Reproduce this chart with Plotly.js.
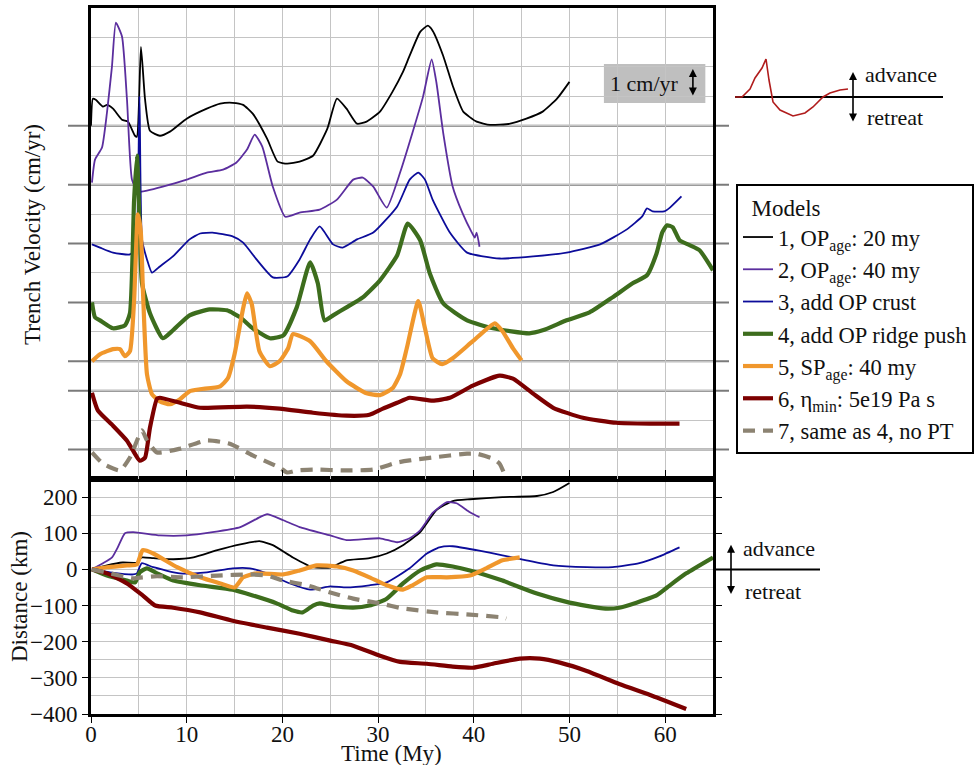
<!DOCTYPE html>
<html>
<head>
<meta charset="utf-8">
<script src="https://cdn.plot.ly/plotly-3.0.1.min.js"></script>
<style>html,body{margin:0;padding:0;background:#fff;}#chart{width:979px;height:765px;}</style>
</head>
<body>
<div id="chart"></div>
<script>
// ---------- Trench velocity (cm/yr), time in My ----------
const t1 = [0,0.2,0.5,1.25,1.67,2.3,3.24,3.86,4.6,4.8,5.22,5.64,6.16,7.2,8.25,10.0,12.1,13.5,14.8,15.9,16.9,18.4,19.5,20.5,21.8,23.2,24.7,25.7,26.7,27.8,28.8,30.2,31.5,32.6,33.3,34.4,35.2,35.7,36.8,37.8,38.9,40.3,41.7,43.8,45.5,47.2,48.7,50.0];
const v1 = [0,0.92,0.88,0.65,0.71,0.58,0.2,0.14,-0.34,-0.37,2.68,0.92,-0.17,-0.34,-0.2,0.24,0.58,0.75,0.78,0.71,0.41,-0.44,-1.22,-1.29,-1.22,-1.02,-0.1,0.92,0.58,0.07,0.14,0.48,1.15,1.83,2.38,3.19,3.40,3.23,2.38,1.36,0.48,0.14,0.03,0.07,0.24,0.48,0.92,1.49];
const t2 = [0.1,0.42,1.15,1.67,2.19,2.6,3.24,3.76,4.28,4.9,5.85,7.5,10.0,12.1,13.8,15.2,16.3,17.1,17.9,19.0,20.3,21.8,23.9,25.7,27.4,28.4,29.5,30.9,32.3,33.6,34.7,35.6,36.1,36.8,37.8,38.8,39.8,40.1,40.3,40.6];
const v2 = [0.07,0.85,1.26,2.45,4.01,5.5,5.03,2.89,0.17,-0.24,-0.2,-0.07,0.17,0.41,0.51,0.75,1.19,1.70,1.29,-0.07,-1.09,-0.95,-0.85,-0.51,0.17,0.24,-0.07,-0.78,0.41,1.77,2.99,4.25,3.46,1.77,-0.07,-0.95,-1.63,-1.80,-1.63,-2.11];
const t3 = [0.1,0.94,2.3,4.07,4.6,4.8,5.07,5.33,5.85,6.37,7.2,8.56,10.3,11.4,12.7,14.8,15.9,17.3,19.0,20.5,21.8,22.9,23.9,25.3,26.3,27.8,29.5,32.0,33.3,34.2,34.9,35.7,37.5,39.3,42.7,46.2,49.7,53.2,56.0,57.6,58.1,58.7,59.9,60.5,61.7];
const v3 = [-0.03,-0.14,-0.31,-0.37,-0.2,0.14,5.0,0.14,-0.54,-0.99,-0.78,-0.44,0.14,0.34,0.37,0.24,0.03,-0.54,-1.15,-1.12,-0.54,0.14,0.58,-0.03,-0.14,0.14,0.37,1.26,2.17,2.41,2.17,1.49,0.37,-0.31,-0.51,-0.44,-0.31,-0.03,0.48,0.92,1.19,1.09,1.09,1.22,1.60];
const t4 = [0.1,0.42,0.94,2.3,3.55,4.07,4.5,4.8,5.1,5.33,6.16,7.5,8.56,10.3,12.4,14.2,15.6,16.9,18.7,20.1,21.5,22.9,23.7,24.4,25.3,26.7,28.4,30.2,32.0,33.1,34.4,35.4,36.8,39.3,42.0,45.8,47.2,49.7,52.1,54.5,56.6,58.1,59.1,59.7,60.2,60.8,61.5,62.6,63.6,65.0];
const v4 = [0,-0.51,-0.61,-0.88,-0.78,-0.37,3.46,4.99,2.45,0.65,-0.37,-1.22,-0.95,-0.44,-0.24,-0.27,-0.51,-0.88,-1.22,-1.12,-0.17,1.36,0.65,-0.61,-0.44,-0.17,0.17,0.75,1.60,2.68,2.11,0.99,-0.03,-0.61,-0.88,-1.05,-0.95,-0.61,-0.34,0.17,0.65,0.92,1.66,2.38,2.62,2.55,2.11,1.94,1.77,1.09];
const t5 = [0.1,0.94,2.3,3.03,3.55,4.07,4.5,4.9,5.2,5.43,5.85,6.37,7.2,8.25,9.3,10.3,11.4,13.5,14.3,15.0,15.9,16.3,16.8,17.6,18.7,19.7,20.6,21.1,22.9,24.6,26.7,28.8,30.2,31.5,32.3,33.0,34.2,34.9,35.7,36.7,37.8,39.9,42.2,43.0,44.1,45.0];
const v5 = [0,0.24,0.41,0.41,0.17,0.34,2.04,4.99,4.42,2.38,-0.44,-1.12,-1.36,-1.46,-1.29,-1.02,-0.95,-0.85,-0.58,0.24,1.80,2.31,1.94,0.34,-0.17,0,0.44,0.92,0.68,0,-0.68,-1.09,-1.15,-0.92,-0.44,0.44,2.04,1.12,0.10,-0.10,0.10,0.68,1.29,1.02,0.44,0.03];
const t6 = [0.1,0.73,2.3,3.76,4.4,5.1,5.64,6.16,6.9,7.2,9.3,11.4,16.3,19.7,23.2,26.7,29.1,30.5,32.0,33.3,35.7,37.5,39.9,42.7,44.1,46.2,48.3,51.4,54.9,58.4,60.2,61.5];
const v6 = [-0.07,-0.68,-1.19,-1.70,-2.04,-2.38,-2.28,-1.26,-0.27,-0.24,-0.41,-0.58,-0.54,-0.61,-0.75,-0.85,-0.82,-0.61,-0.41,-0.24,-0.34,-0.24,0.17,0.51,0.41,-0.10,-0.58,-0.92,-1.09,-1.12,-1.12,-1.12];
const t7 = [0.1,1.25,3.03,4.07,5.33,5.85,6.9,9.3,12.1,14.5,16.9,19.7,20.5,21.5,23.2,26.7,29.5,32.0,33.3,35.7,39.3,40.3,42.0,42.7,43.4];
const v7 = [-0.10,-0.48,-0.71,-0.27,0.65,0.31,-0.10,0.03,0.31,0.20,-0.20,-0.61,-0.78,-0.71,-0.68,-0.71,-0.68,-0.44,-0.37,-0.27,-0.14,-0.14,-0.31,-0.48,-0.99];
// baseline (zero velocity) of each stacked model curve
const offsets = [12,10,8,6,4,3,1];

// ---------- Trench distance (km) ----------
const d1t = [0.1,1.67,3.3,4.8,5.3,6.5,8.6,10.7,13.2,15.6,17.6,19.0,21.1,23.2,25.0,26.0,26.7,29.1,30.9,32.6,34.4,36.1,37.8,39.6,43.0,46.6,48.3,50.0];
const d1 = [0,11,19,19,33,31,28,33,53,69,78,67,33,6,5,17,25,31,44,67,103,164,189,194,200,203,214,239];
const d2t = [0.1,1.25,2.2,2.8,3.55,4.4,7.2,10.0,12.7,15.6,17.6,18.4,20.1,21.8,25.0,26.7,30.2,32.0,33.3,34.4,35.7,37.2,38.2,39.6,40.6];
const d2 = [0,17,33,61,100,103,94,94,103,117,144,153,136,117,94,81,86,75,86,108,156,186,183,158,144];
const d3t = [0.1,2.0,4.4,4.8,5.3,6.5,9.3,12.1,14.8,16.6,18.4,20.8,22.9,25.0,26.7,29.1,30.9,33.3,35.1,36.4,37.8,40.3,43.0,45.5,48.3,51.8,54.5,57.3,59.4,61.5];
const d3 = [0,-8,-14,-11,17,6,-11,-8,3,3,-11,-39,-56,-47,-50,-44,-36,3,44,61,64,53,39,25,11,6,6,17,36,61];
const d4t = [0.1,1.67,3.76,4.6,5.1,5.85,6.9,8.6,11.4,14.8,16.9,19.4,21.1,22.1,23.2,23.9,25.0,27.4,29.1,30.9,32.6,34.4,36.1,37.8,39.6,43.0,46.6,50.0,53.5,55.2,57.0,59.1,60.2,62.2,65.0];
const d4 = [0,-17,-31,-36,-8,3,-11,-31,-44,-56,-72,-94,-114,-119,-100,-94,-100,-106,-100,-81,-39,-3,14,8,-3,-31,-67,-92,-108,-106,-92,-72,-50,-11,33];
const d5t = [0.1,1.67,3.76,4.8,5.4,6.5,9.0,11.4,13.5,15.0,15.9,17.3,20.1,21.8,23.6,25.7,27.4,29.1,30.9,32.6,33.6,35.1,37.2,39.6,41.3,43.0,44.8];
const d5 = [0,6,11,14,53,44,6,-22,-39,-50,-22,-11,-14,-3,11,8,-3,-22,-44,-56,-44,-22,-22,-17,3,25,33];
const d6t = [0.1,1.67,3.76,5.4,6.7,8.6,11.4,14.8,18.4,21.8,25.0,27.4,30.2,32.3,35.1,37.8,39.9,42.0,44.8,46.9,49.0,51.8,55.2,58.7,62.2];
const d6 = [0,-11,-39,-72,-100,-106,-119,-142,-161,-178,-197,-211,-239,-256,-261,-269,-272,-261,-247,-247,-258,-281,-317,-350,-386];
const d7t = [0.1,2.0,4.4,5.4,6.9,9.6,13.2,16.6,18.4,20.1,22.6,25.0,27.4,30.2,32.6,36.1,39.6,43.0,43.4];
const d7 = [0,-11,-25,-22,-19,-22,-17,-14,-17,-31,-44,-64,-81,-94,-108,-119,-125,-133,-136];

// ---------- Labels ----------
const modelNames = ['1, OP<sub>age</sub>: 20 my','2, OP<sub>age</sub>: 40 my','3, add OP crust','4, add OP ridge push','5, SP<sub>age</sub>: 40 my','6, η<sub>min</sub>: 5e19 Pa s','7, same as 4, no PT'];
const distTicks = [-400,-300,-200,-100,0,100,200];

// ---------- Schematic inset (advance / retreat sketch) ----------
const insetX = [0,0.7,1.5,2.0,2.7,3.1,3.4,3.8,4.5,5.8,7.0,7.8,8.8,9.5,10.5,11.3];
const insetY = [0,0,0.8,1.9,2.9,3.8,1.7,-0.5,-1.3,-1.9,-1.6,-1.0,0,0.4,0.7,0.8];
const insetBaseX = [0,20.8];
const insetBaseY = [0,0];

// ---------- Styles ----------
const colors = ['#000000','#5b2e9e','#0c0c9a','#3d6d1d','#f0972c','#7c0000','#8c8372'];
const widths = [1.8,1.8,1.8,4.2,4.2,4.2,4.2];
const dashes = ['solid','solid','solid','solid','solid','solid','12px,8px'];

const vT = [t1,t2,t3,t4,t5,t6,t7];
const vV = [v1,v2,v3,v4,v5,v6,v7];
const dT = [d1t,d2t,d3t,d4t,d5t,d6t,d7t];
const dD = [d1,d2,d3,d4,d5,d6,d7];

const traces = [];
for (let i = 0; i < 7; i++) {
  traces.push({
    type:'scatter', mode:'lines', x:vT[i], y:vV[i].map(v => v + offsets[i]),
    xaxis:'x2', yaxis:'y', name:modelNames[i],
    line:{color:colors[i], width:widths[i], dash:dashes[i], shape:'spline', smoothing:0.5},
    hoverinfo:'skip'
  });
}
for (let i = 0; i < 7; i++) {
  traces.push({
    type:'scatter', mode:'lines', x:dT[i], y:dD[i],
    xaxis:'x', yaxis:'y2', showlegend:false,
    line:{color:colors[i], width:widths[i], dash:dashes[i], shape:'spline', smoothing:0.5},
    hoverinfo:'skip'
  });
}
traces.push({type:'scatter', mode:'lines', x:insetBaseX, y:insetBaseY, xaxis:'x3', yaxis:'y3', showlegend:false, line:{color:'#000', width:2}, hoverinfo:'skip'});
traces.push({type:'scatter', mode:'lines', x:insetX, y:insetY, xaxis:'x3', yaxis:'y3', showlegend:false, line:{color:'#b01c1c', width:1.6}, hoverinfo:'skip'});

const W = 979, H = 765;
const px = v => v / W;           // page x -> paper
const py = v => 1 - v / H;       // page y -> paper
const GRID = '#c4c4c4';
const FONT = 'Liberation Serif';

const xDom = [px(91), px(713)];
const shapes = offsets.map(o => ({
  type:'line', xref:'paper', yref:'y', x0:px(68), x1:px(729), y0:o, y1:o,
  line:{color:'#7a7a7a', width:2}, layer:'between'
}));
// scale bar box
shapes.push({type:'rect', xref:'x2', yref:'y', x0:53.6, x1:64.2, y0:12.77, y1:14.1, fillcolor:'#bfbfbf', line:{width:0}, layer:'below'});
// zero line for distance schematic to the right
shapes.push({type:'line', xref:'paper', yref:'y2', x0:px(713), x1:px(820), y0:0, y1:0, line:{color:'#000', width:2}});

const annotations = [
  {xref:'paper', yref:'paper', x:px(32), y:py(235), text:'Trench Velocity (cm/yr)', textangle:-90, showarrow:false, font:{family:FONT, size:23}, xanchor:'center', yanchor:'middle'},
  {xref:'paper', yref:'paper', x:px(19), y:py(597), text:'Distance (km)', textangle:-90, showarrow:false, font:{family:FONT, size:23}, xanchor:'center', yanchor:'middle'},
  {xref:'paper', yref:'paper', x:px(391), y:py(753), text:'Time (My)', showarrow:false, font:{family:FONT, size:23}, xanchor:'center', yanchor:'middle'},
  {xref:'x2', yref:'y', x:57.8, y:13.42, text:'1 cm/yr', showarrow:false, font:{family:FONT, size:22}, xanchor:'center', yanchor:'middle'},
  {xref:'x2', yref:'y', x:62.9, y:13.93, ax:62.9, ay:12.98, axref:'x2', ayref:'y', text:'', showarrow:true, arrowhead:2, arrowside:'end+start', arrowsize:1, arrowwidth:1.6, arrowcolor:'#000'},
  // inset top-right
  {xref:'x3', yref:'y3', x:11.8, y:2.5, ax:11.8, ay:-2.6, axref:'x3', ayref:'y3', text:'', showarrow:true, arrowhead:2, arrowside:'end+start', arrowsize:1, arrowwidth:1.6, arrowcolor:'#000'},
  {xref:'x3', yref:'y3', x:12.8, y:2.2, text:'advance', showarrow:false, font:{family:FONT, size:22}, xanchor:'left', yanchor:'middle'},
  {xref:'x3', yref:'y3', x:13.0, y:-2.1, text:'retreat', showarrow:false, font:{family:FONT, size:22}, xanchor:'left', yanchor:'middle'},
  // distance-side schematic
  {xref:'paper', yref:'y2', x:px(731), y:68, ax:0, ay:-72, ayref:'y2', text:'', showarrow:true, arrowhead:2, arrowside:'end+start', arrowsize:1, arrowwidth:1.6, arrowcolor:'#000'},
  {xref:'paper', yref:'y2', x:px(741), y:58, text:'advance', showarrow:false, font:{family:FONT, size:22}, xanchor:'left', yanchor:'middle'},
  {xref:'paper', yref:'y2', x:px(743), y:-61, text:'retreat', showarrow:false, font:{family:FONT, size:22}, xanchor:'left', yanchor:'middle'}
];

const layout = {
  width:W, height:H,
  margin:{l:0, r:0, t:0, b:0, autoexpand:false},
  paper_bgcolor:'#fff', plot_bgcolor:'#fff',
  font:{family:FONT, size:22, color:'#111'},
  showlegend:true,
  legend:{x:px(736), xanchor:'left', y:py(184), yanchor:'top', bgcolor:'#fff', bordercolor:'#000', borderwidth:2,
          font:{family:FONT, size:22.5, color:'#111'}, title:{text:'\u2002Models', font:{family:FONT, size:23, color:'#111'}},
          tracegroupgap:0, itemwidth:30},
  xaxis:{domain:xDom, anchor:'y2', range:[0,65], tick0:0, dtick:10, ticks:'outside', ticklen:6, tickwidth:1, tickcolor:'#000',
         ticklabelstandoff:-9,
         showgrid:true, gridcolor:GRID, gridwidth:1, minor:{dtick:5, tick0:0, showgrid:true, gridcolor:GRID, gridwidth:1},
         showline:true, linewidth:3, linecolor:'#000', mirror:true, zeroline:false, tickfont:{family:FONT, size:23, color:'#111'}},
  xaxis2:{domain:xDom, anchor:'y', matches:'x', range:[0,65], tick0:0, dtick:10, ticks:'inside', ticklen:9, tickwidth:1, tickcolor:'#000',
          showticklabels:false, showgrid:true, gridcolor:GRID, gridwidth:1, minor:{dtick:5, tick0:0, showgrid:true, gridcolor:GRID, gridwidth:1},
          showline:true, linewidth:3, linecolor:'#000', mirror:true, zeroline:false},
  yaxis:{domain:[py(479), py(8)], anchor:'x2', range:[0,16], tick0:0, dtick:1, showticklabels:false, ticks:'',
         showgrid:true, gridcolor:GRID, gridwidth:1, zeroline:false, showline:true, linewidth:3, linecolor:'#000', mirror:true},
  yaxis4:{overlaying:'y', side:'right', anchor:'x2', range:[0,16], tick0:0, dtick:1, ticks:'outside', ticklen:6, tickwidth:1, tickcolor:'#666',
          showticklabels:false, showgrid:false, zeroline:false, showline:false},
  yaxis2:{domain:[py(714), py(479)], anchor:'x', range:[-400,250], tickmode:'array', tickvals:distTicks, ticks:'outside', ticklen:6, tickwidth:1, tickcolor:'#000',
          mirror:'allticks', showline:true, linewidth:3, linecolor:'#000', showgrid:true, gridcolor:GRID, gridwidth:1,
          minor:{tick0:0, dtick:50, showgrid:true, gridcolor:GRID, gridwidth:1}, zeroline:false, tickfont:{family:FONT, size:23, color:'#111'}},
  xaxis3:{domain:[px(735), px(943)], anchor:'y3', range:[0,20.8], visible:false, fixedrange:true},
  yaxis3:{domain:[py(125), py(55)], anchor:'x3', range:[-2.8,4.2], visible:false, fixedrange:true},
  shapes:shapes,
  annotations:annotations
};

Plotly.newPlot('chart', traces, layout, {displayModeBar:false, responsive:false});
</script>
</body>
</html>
